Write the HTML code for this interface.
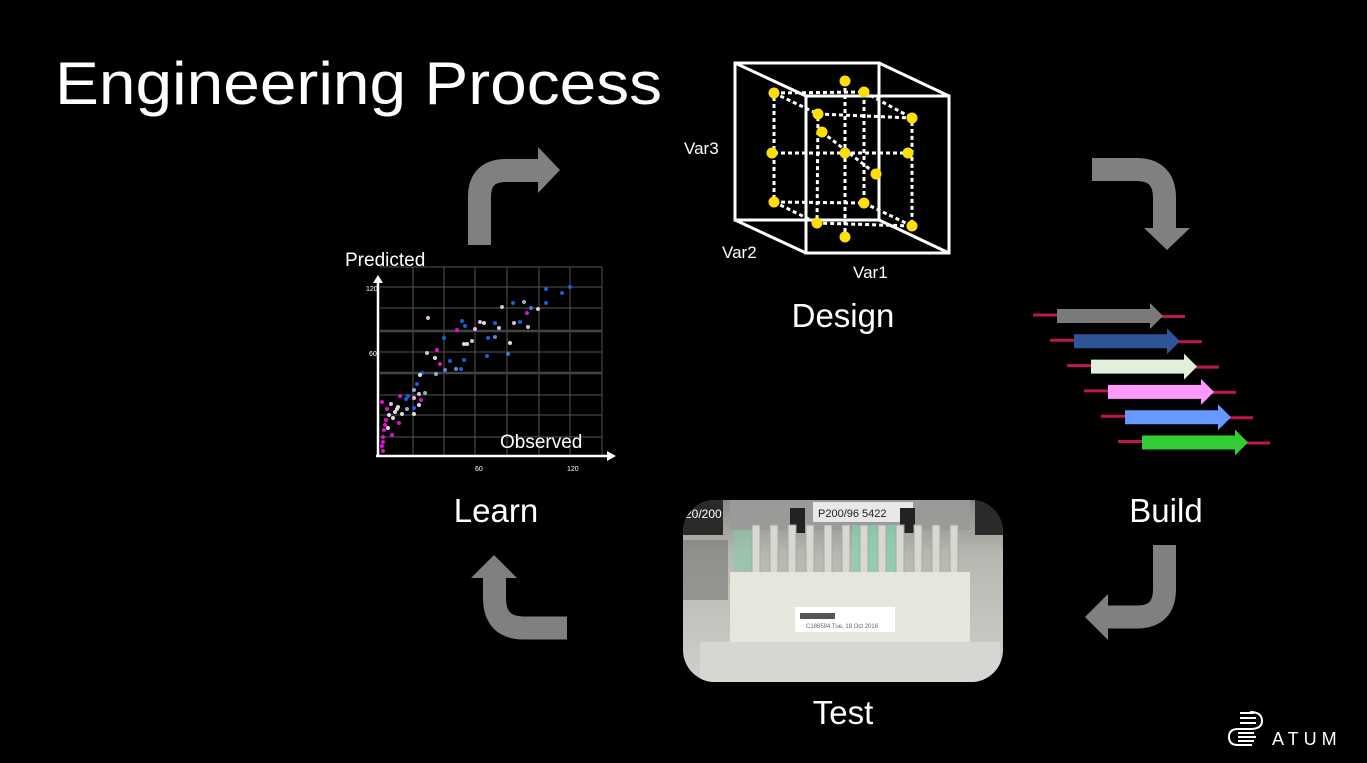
<!DOCTYPE html>
<html><head><meta charset="utf-8"><style>
html,body{margin:0;padding:0;background:#000;width:1367px;height:763px;overflow:hidden}
svg{display:block}
text{font-family:"Liberation Sans",sans-serif;fill:#fff}
</style></head><body>
<svg width="1367" height="763" viewBox="0 0 1367 763" xmlns="http://www.w3.org/2000/svg">
<defs>
<linearGradient id="bg" x1="0" y1="0" x2="0" y2="1">
<stop offset="0" stop-color="#8a8a88"/><stop offset="0.3" stop-color="#b8b8b2"/><stop offset="1" stop-color="#cfcfcb"/></linearGradient>
<clipPath id="cp"><rect x="683" y="500" width="320" height="182" rx="32"/></clipPath>
</defs>
<rect width="1367" height="763" fill="#000"/>
<text x="55" y="104" font-size="60" textLength="607" lengthAdjust="spacingAndGlyphs">Engineering Process</text>

<!-- curved arrows -->
<g fill="none" stroke="#808080" stroke-width="23">
<path d="M479.5 245 V197 Q479.5 170.5 506 170.5 H540"/>
<path d="M1092 169.5 H1136 Q1164.5 169.5 1164.5 198 V230"/>
<path d="M1164.5 545 V589 Q1164.5 617 1137 617 H1106"/>
<path d="M567 628 H524 Q494.5 628 494.5 598 V576"/>
</g>
<g fill="#808080">
<polygon points="538,147 560,170 538,193"/>
<polygon points="1144,228 1190,228 1167,250"/>
<polygon points="1108,594 1108,640 1085,617"/>
<polygon points="471,578 517,578 494,555"/>
</g>

<!-- cube -->
<g fill="none" stroke="#fff" stroke-width="3">
<rect x="735" y="63" width="144" height="157"/>
<rect x="806" y="96" width="143" height="157"/>
<line x1="735" y1="63" x2="806" y2="96"/><line x1="879" y1="63" x2="949" y2="96"/>
<line x1="735" y1="220" x2="806" y2="253"/><line x1="879" y1="220" x2="949" y2="253"/>
</g>
<g fill="none" stroke="#fff" stroke-width="3" stroke-dasharray="4 3">
<polygon points="774,93 864,92 864,203 774,202"/>
<polygon points="818,114 912,118 912,226 817,223"/>
<line x1="774" y1="93" x2="818" y2="114"/><line x1="864" y1="92" x2="912" y2="118"/>
<line x1="774" y1="202" x2="817" y2="223"/><line x1="864" y1="203" x2="912" y2="226"/>
<line x1="774" y1="153" x2="908" y2="153"/><line x1="845" y1="81" x2="845" y2="237"/>
<line x1="822" y1="132" x2="876" y2="174"/>
</g>
<g fill="#ffdf00">
<circle cx="774" cy="93" r="5.5"/><circle cx="864" cy="92" r="5.5"/><circle cx="818" cy="114" r="5.5"/><circle cx="912" cy="118" r="5.5"/>
<circle cx="774" cy="202" r="5.5"/><circle cx="864" cy="203" r="5.5"/><circle cx="817" cy="223" r="5.5"/><circle cx="912" cy="226" r="5.5"/>
<circle cx="845" cy="81" r="5.5"/><circle cx="845" cy="237" r="5.5"/><circle cx="772" cy="153" r="5.5"/><circle cx="908" cy="153" r="5.5"/>
<circle cx="845" cy="153" r="5.5"/><circle cx="822" cy="132" r="5.5"/><circle cx="876" cy="174" r="5.5"/>
</g>
<text x="684" y="154" font-size="17">Var3</text>
<text x="722" y="258" font-size="17">Var2</text>
<text x="853" y="278" font-size="17">Var1</text>
<text x="843" y="327" font-size="33" text-anchor="middle">Design</text>

<!-- build arrows -->
<g id="ar">
</g>
<g>
<!-- row template: lines then body -->
<g transform="translate(0,0)"><line x1="1033" y1="315" x2="1060" y2="315" stroke="#c0174a" stroke-width="3"/><line x1="1160" y1="316.5" x2="1185" y2="316.5" stroke="#c0174a" stroke-width="3"/><polygon points="1057,309 1150,309 1150,303 1163,316 1150,329 1150,323 1057,323" fill="#7a7a7a"/></g>
<g transform="translate(17,25.3)"><line x1="1033" y1="315" x2="1060" y2="315" stroke="#c0174a" stroke-width="3"/><line x1="1160" y1="316.5" x2="1185" y2="316.5" stroke="#c0174a" stroke-width="3"/><polygon points="1057,309 1150,309 1150,303 1163,316 1150,329 1150,323 1057,323" fill="#2f5597"/></g>
<g transform="translate(34,50.6)"><line x1="1033" y1="315" x2="1060" y2="315" stroke="#c0174a" stroke-width="3"/><line x1="1160" y1="316.5" x2="1185" y2="316.5" stroke="#c0174a" stroke-width="3"/><polygon points="1057,309 1150,309 1150,303 1163,316 1150,329 1150,323 1057,323" fill="#e2efda"/></g>
<g transform="translate(51,75.9)"><line x1="1033" y1="315" x2="1060" y2="315" stroke="#c0174a" stroke-width="3"/><line x1="1160" y1="316.5" x2="1185" y2="316.5" stroke="#c0174a" stroke-width="3"/><polygon points="1057,309 1150,309 1150,303 1163,316 1150,329 1150,323 1057,323" fill="#ff99ff"/></g>
<g transform="translate(68,101.2)"><line x1="1033" y1="315" x2="1060" y2="315" stroke="#c0174a" stroke-width="3"/><line x1="1160" y1="316.5" x2="1185" y2="316.5" stroke="#c0174a" stroke-width="3"/><polygon points="1057,309 1150,309 1150,303 1163,316 1150,329 1150,323 1057,323" fill="#6699ff"/></g>
<g transform="translate(85,126.5)"><line x1="1033" y1="315" x2="1060" y2="315" stroke="#c0174a" stroke-width="3"/><line x1="1160" y1="316.5" x2="1185" y2="316.5" stroke="#c0174a" stroke-width="3"/><polygon points="1057,309 1150,309 1150,303 1163,316 1150,329 1150,323 1057,323" fill="#33cc33"/></g>
</g>
<text x="1166" y="522" font-size="33" text-anchor="middle">Build</text>

<!-- scatter -->
<g stroke="#555" stroke-width="1">
<line x1="413" y1="267" x2="413" y2="455"/><line x1="444" y1="267" x2="444" y2="455"/><line x1="475" y1="267" x2="475" y2="455"/><line x1="507" y1="267" x2="507" y2="455"/><line x1="539" y1="267" x2="539" y2="455"/><line x1="570" y1="267" x2="570" y2="455"/><line x1="602" y1="267" x2="602" y2="455"/>
<line x1="380" y1="267" x2="602" y2="267"/><line x1="380" y1="287" x2="602" y2="287"/><line x1="380" y1="308" x2="602" y2="308"/><line x1="380" y1="331" x2="602" y2="331" stroke-width="2.5" stroke="#444"/><line x1="380" y1="352" x2="602" y2="352"/><line x1="380" y1="373" x2="602" y2="373" stroke-width="2.5" stroke="#444"/><line x1="380" y1="395" x2="602" y2="395"/><line x1="380" y1="415" x2="602" y2="415"/><line x1="380" y1="437" x2="602" y2="437"/>
</g>
<g stroke="#fff" stroke-width="2.5"><line x1="378" y1="456" x2="378" y2="282"/><line x1="376" y1="456" x2="608" y2="456"/></g>
<polygon points="373,283 383,283 378,275" fill="#fff"/><polygon points="607,451 607,461 616,456" fill="#fff"/>
<g font-size="7" fill="#ddd"><text x="366" y="291">120</text><text x="369" y="356">60</text><text x="475" y="471">60</text><text x="567" y="471">120</text></g>
<text x="345" y="266" font-size="19">Predicted</text>
<text x="500" y="448" font-size="19">Observed</text>
<g>
<circle cx="546" cy="289" r="2" fill="#1560e0"/><circle cx="570" cy="287" r="2" fill="#1560e0"/><circle cx="562" cy="293" r="2" fill="#1560e0"/><circle cx="546" cy="303" r="2" fill="#1560e0"/><circle cx="531" cy="308" r="2" fill="#3a7be0"/><circle cx="538" cy="309" r="2" fill="#d8c8e0"/><circle cx="513" cy="303" r="2" fill="#1560e0"/><circle cx="524" cy="302" r="2" fill="#8faadc"/><circle cx="502" cy="307" r="2" fill="#e0b8e0"/><circle cx="527" cy="313" r="2" fill="#e010d0"/><circle cx="520" cy="322" r="2" fill="#1560e0"/><circle cx="514" cy="323" r="2" fill="#e0b8e0"/><circle cx="528" cy="327" r="2" fill="#e0b8e0"/><circle cx="495" cy="323" r="2" fill="#1560e0"/><circle cx="499" cy="328" r="2" fill="#e0b8e0"/><circle cx="480" cy="322" r="2" fill="#e0b8e0"/><circle cx="484" cy="323" r="2" fill="#ddd"/><circle cx="462" cy="321" r="2" fill="#1560e0"/><circle cx="465" cy="326" r="2" fill="#1560e0"/><circle cx="457" cy="330" r="2" fill="#e010d0"/><circle cx="475" cy="329" r="2" fill="#e0b8e0"/><circle cx="428" cy="318" r="2" fill="#e0b8e0"/><circle cx="444" cy="338" r="2" fill="#1560e0"/><circle cx="488" cy="338" r="2" fill="#1560e0"/><circle cx="495" cy="337" r="2" fill="#5a8ad8"/><circle cx="472" cy="341" r="2" fill="#e0b8e0"/><circle cx="464" cy="344" r="2" fill="#ddd"/><circle cx="467" cy="344" r="2" fill="#ddd"/><circle cx="510" cy="343" r="2" fill="#ddd"/><circle cx="427" cy="353" r="2" fill="#e0b8e0"/><circle cx="437" cy="350" r="2" fill="#e010d0"/><circle cx="435" cy="358" r="2" fill="#ddd"/><circle cx="440" cy="364" r="2" fill="#e010d0"/><circle cx="450" cy="361" r="2" fill="#1560e0"/><circle cx="464" cy="360" r="2" fill="#1560e0"/><circle cx="487" cy="356" r="2" fill="#1560e0"/><circle cx="508" cy="354" r="2" fill="#3a7be0"/><circle cx="445" cy="370" r="2" fill="#5a8ad8"/><circle cx="456" cy="369" r="2" fill="#5a8ad8"/><circle cx="461" cy="369" r="2" fill="#1560e0"/><circle cx="422" cy="373" r="2" fill="#1560e0"/><circle cx="420" cy="375" r="2" fill="#ddd"/><circle cx="436" cy="374" r="2" fill="#8faadc"/><circle cx="417" cy="384" r="2" fill="#1560e0"/><circle cx="414" cy="390" r="2" fill="#8faadc"/><circle cx="425" cy="393" r="2" fill="#8faadc"/><circle cx="419" cy="394" r="2" fill="#e0b8e0"/><circle cx="400" cy="396" r="2" fill="#e010d0"/><circle cx="408" cy="396" r="2" fill="#1560e0"/><circle cx="406" cy="399" r="2" fill="#1560e0"/><circle cx="414" cy="398" r="2" fill="#e0b8e0"/><circle cx="421" cy="400" r="2" fill="#e010d0"/><circle cx="419" cy="405" r="2" fill="#ddd"/><circle cx="414" cy="408" r="2" fill="#1560e0"/><circle cx="407" cy="409" r="2" fill="#8faadc"/><circle cx="414" cy="414" r="2" fill="#ddd"/><circle cx="382" cy="402" r="2" fill="#e010d0"/><circle cx="387" cy="409" r="2" fill="#e010d0"/><circle cx="397" cy="409" r="2" fill="#ddd"/><circle cx="402" cy="414" r="2" fill="#ddd"/><circle cx="393" cy="418" r="2" fill="#ddd"/><circle cx="399" cy="423" r="2" fill="#e010d0"/><circle cx="392" cy="435" r="2" fill="#e010d0"/><circle cx="383" cy="437" r="2" fill="#e010d0"/><circle cx="383" cy="442" r="2" fill="#e010d0"/><circle cx="383" cy="451" r="2" fill="#e010d0"/><circle cx="385" cy="425" r="2" fill="#e010d0"/><circle cx="388" cy="428" r="2" fill="#ddd"/><circle cx="384" cy="430" r="2" fill="#e010d0"/><circle cx="389" cy="415" r="2" fill="#ddd"/><circle cx="395" cy="412" r="2" fill="#ddd"/><circle cx="386" cy="420" r="2" fill="#e010d0"/><circle cx="382" cy="446" r="2" fill="#e010d0"/><circle cx="391" cy="404" r="2" fill="#e0b8e0"/><circle cx="398" cy="407" r="2" fill="#ddd"/>
</g>
<text x="496" y="522" font-size="33" text-anchor="middle">Learn</text>

<!-- photo -->
<g clip-path="url(#cp)">
<rect x="683" y="500" width="320" height="182" fill="url(#bg)"/>
<rect x="683" y="500" width="40" height="35" fill="#2a2a2a"/>
<rect x="975" y="500" width="28" height="35" fill="#2a2a2a"/>
<text x="685" y="518" font-size="12" fill="#ccc">20/200</text>
<rect x="730" y="500" width="240" height="30" fill="#9a9a98"/>
<rect x="813" y="502" width="100" height="20" fill="#e8e8e8"/>
<text x="818" y="517" font-size="11" style="fill:#222">P200/96  5422</text>
<rect x="790" y="508" width="15" height="25" fill="#222"/><rect x="900" y="508" width="15" height="25" fill="#222"/>
<rect x="733" y="530" width="24" height="45" fill="#88c9a6" opacity="0.6"/>
<rect x="852" y="525" width="45" height="50" fill="#7fd6b0" opacity="0.7"/>
<g fill="#d8d8d2" stroke="#a8a8a0" stroke-width="1">
<rect x="752" y="525" width="8" height="48"/><rect x="770" y="525" width="8" height="48"/><rect x="788" y="525" width="8" height="48"/><rect x="806" y="525" width="8" height="48"/><rect x="824" y="525" width="8" height="48"/><rect x="842" y="525" width="8" height="48"/><rect x="860" y="525" width="8" height="48"/><rect x="878" y="525" width="8" height="48"/><rect x="896" y="525" width="8" height="48"/><rect x="914" y="525" width="8" height="48"/><rect x="932" y="525" width="8" height="48"/><rect x="950" y="525" width="8" height="48"/>
</g>
<rect x="730" y="572" width="240" height="70" fill="#e6e6dc"/>
<rect x="795" y="607" width="100" height="25" fill="#fff"/>
<rect x="800" y="613" width="35" height="6" fill="#555"/>
<text x="806" y="628" font-size="6" style="fill:#666">C186594 Tue, 18 Oct 2016</text>
<rect x="700" y="642" width="300" height="40" fill="#d6d6d2"/>
<rect x="683" y="540" width="45" height="60" fill="#6a6a68" opacity="0.5"/>
</g>
<text x="843" y="724" font-size="33" text-anchor="middle">Test</text>

<!-- logo -->
<g fill="none" stroke="#fff" stroke-width="2">
<path d="M1250 712 Q1262 712 1262 721 Q1262 729 1250 729"/>
<path d="M1250 729 H1238 Q1229 729 1229 737 Q1229 745 1238 745 H1252"/>
<line x1="1240" y1="713" x2="1254" y2="713"/><line x1="1240" y1="718" x2="1256" y2="718"/><line x1="1240" y1="723" x2="1256" y2="723"/>
<line x1="1238" y1="733" x2="1254" y2="733"/><line x1="1238" y1="737" x2="1256" y2="737"/><line x1="1238" y1="741" x2="1254" y2="741"/>
</g>
<text x="1272" y="745" font-size="18" letter-spacing="5">ATUM</text>
</svg>
</body></html>
